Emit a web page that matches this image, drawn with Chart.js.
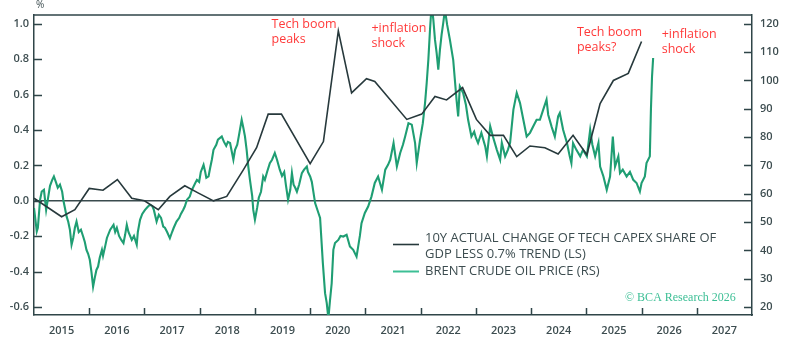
<!DOCTYPE html>
<html><head><meta charset="utf-8">
<script src="https://cdn.jsdelivr.net/npm/chart.js@4"></script>
<style>html,body{margin:0;padding:0;background:#fff}#wrap{width:792px;height:340px;position:relative}</style>
</head><body><div id="wrap"><canvas id="c" width="792" height="340"></canvas></div>
<script>
// ---- data ----
const capexYears = [2015.00,2015.50,2015.74,2016.00,2016.25,2016.51,2016.77,2017.00,2017.25,2017.46,2017.73,2017.97,2018.25,2018.49,2018.79,2019.03,2019.24,2019.48,2020.00,2020.24,2020.51,2020.75,2021.02,2021.17,2021.75,2022.02,2022.26,2022.47,2022.76,2023.01,2023.26,2023.50,2023.74,2023.98,2024.25,2024.49,2024.76,2025.01,2025.25,2025.49,2025.76,2026.00];
const capexValues = [0.015,-0.09,-0.05,0.07,0.06,0.12,0.015,0.0,-0.05,0.025,0.085,0.045,0.0,0.025,0.175,0.30,0.49,0.49,0.21,0.335,0.96,0.61,0.69,0.675,0.46,0.49,0.59,0.57,0.64,0.46,0.37,0.37,0.25,0.31,0.30,0.265,0.37,0.26,0.55,0.68,0.72,0.90];

const brentYears = [2015.00,2015.03,2015.05,2015.07,2015.11,2015.14,2015.18,2015.22,2015.25,2015.29,2015.33,2015.36,2015.40,2015.43,2015.47,2015.51,2015.53,2015.56,2015.59,2015.62,2015.65,2015.68,2015.71,2015.74,2015.77,2015.81,2015.85,2015.89,2015.92,2015.95,2015.98,
2016.01,2016.04,2016.07,2016.10,2016.13,2016.16,2016.19,2016.23,2016.25,2016.29,2016.32,2016.38,2016.44,2016.47,2016.50,2016.54,2016.58,2016.62,2016.65,2016.68,2016.71,2016.74,2016.77,2016.81,2016.86,2016.88,2016.92,2016.96,
2017.01,2017.06,2017.10,2017.14,2017.17,2017.22,2017.26,2017.30,2017.34,2017.37,2017.41,2017.46,2017.50,2017.53,2017.58,2017.63,2017.66,2017.70,2017.73,2017.77,2017.82,2017.86,2017.92,2017.95,2017.99,
2018.02,2018.07,2018.10,2018.12,2018.16,2018.19,2018.22,2018.25,2018.30,2018.33,2018.40,2018.44,2018.48,2018.51,2018.55,2018.61,2018.64,2018.68,2018.71,2018.76,2018.79,2018.82,2018.85,2018.88,2018.91,2018.95,2018.97,
2019.00,2019.04,2019.07,2019.11,2019.15,2019.18,2019.22,2019.27,2019.31,2019.36,2019.40,2019.45,2019.49,2019.53,2019.56,2019.60,2019.64,2019.67,2019.70,2019.73,2019.76,2019.80,2019.85,2019.89,2019.94,2019.96,
2020.00,2020.03,2020.09,2020.15,2020.18,2020.23,2020.27,2020.30,2020.33,2020.36,2020.39,2020.42,2020.45,2020.51,2020.55,2020.60,2020.66,2020.72,2020.78,2020.84,2020.87,2020.90,2020.93,2020.99,
2021.05,2021.11,2021.17,2021.23,2021.30,2021.36,2021.41,2021.45,2021.51,2021.57,2021.63,2021.68,2021.72,2021.78,2021.84,2021.90,2021.93,2021.99,
2022.04,2022.08,2022.11,2022.14,2022.17,2022.20,2022.23,2022.26,2022.29,2022.32,2022.35,2022.38,2022.41,2022.44,2022.48,2022.53,2022.59,2022.65,2022.68,2022.71,2022.77,2022.82,2022.86,2022.92,2022.97,
2023.00,2023.04,2023.10,2023.17,2023.20,2023.26,2023.31,2023.38,2023.44,2023.47,2023.53,2023.58,2023.62,2023.68,2023.74,2023.80,2023.86,2023.92,2023.98,
2024.04,2024.10,2024.16,2024.22,2024.28,2024.31,2024.37,2024.43,2024.49,2024.52,2024.58,2024.65,2024.70,2024.73,2024.76,2024.82,2024.89,2024.94,
2025.01,2025.07,2025.11,2025.16,2025.22,2025.25,2025.31,2025.37,2025.43,2025.48,2025.52,2025.58,2025.61,2025.66,2025.73,2025.79,2025.85,2025.91,2025.97,
2026.00,2026.06,2026.09,2026.15,2026.17,2026.19,2026.21];
const brentValues = [55.0,50.1,46.7,48.0,57.9,60.8,61.4,54.3,57.9,62.8,64.9,66.1,63.9,62.1,63.2,60.7,57.9,55.0,52.0,50.1,47.3,42.0,44.4,48.0,50.2,46.5,47.3,44.9,43.0,40.2,38.8,
36.7,32.4,27.2,30.3,33.1,34.3,37.4,40.2,38.1,41.6,44.4,47.3,49.0,46.5,48.0,45.1,43.7,42.6,45.5,49.0,46.5,45.1,43.7,45.1,42.0,46.5,50.8,52.9,
54.3,55.4,56.1,55.7,54.3,50.2,52.6,51.5,48.4,48.0,46.5,44.3,46.5,48.0,50.2,51.5,52.9,54.3,55.5,57.9,59.0,61.4,63.8,64.9,64.2,
67.7,70.2,67.7,65.6,66.1,69.2,72.0,75.5,77.3,79.1,80.2,78.3,76.9,78.3,77.9,72.0,75.5,77.3,80.5,86.1,83.3,80.2,75.5,69.6,64.9,59.3,54.3,
50.8,55.0,58.6,60.7,66.1,64.9,67.7,70.8,72.0,74.4,72.0,68.5,66.3,67.7,63.2,57.9,61.4,67.3,63.2,62.1,60.7,63.2,67.3,68.5,69.6,67.7,
66.1,64.2,56.7,53.2,51.5,35.5,24.9,21.5,16.0,22.5,28.4,40.2,42.6,43.7,45.1,44.9,45.5,41.4,40.2,37.8,41.4,45.1,49.6,53.2,
55.5,59.0,63.8,66.1,61.4,68.5,70.2,72.0,77.9,69.6,74.4,77.3,80.2,84.9,84.4,77.9,70.8,79.1,
84.9,92.0,99.1,107.3,117.9,127.0,121.5,114.4,109.7,103.8,110.9,116.2,120.3,125.0,119.7,114.4,107.3,93.2,87.3,97.9,95.6,91.4,86.1,80.2,81.9,
79.8,77.9,81.5,76.7,73.2,83.8,80.1,75.5,72.0,78.0,73.2,75.5,78.0,89.7,95.6,92.0,86.1,80.2,81.5,
83.8,86.1,86.1,89.7,93.2,87.9,83.8,80.2,87.3,88.5,82.6,77.9,73.2,70.8,77.9,75.5,73.2,75.5,
73.2,82.6,77.3,73.2,77.9,69.6,66.1,61.4,66.1,80.2,69.6,73.2,67.3,68.5,66.1,67.7,64.9,63.8,60.8,
63.8,66.1,70.8,73.2,89.7,101.4,107.9];

const xLabelYears = [2015,2016,2017,2018,2019,2020,2021,2022,2023,2024,2025,2026,2027];
const xTickYears = [2016,2017,2018,2019,2020,2021,2022,2023,2024,2025,2026,2027];
const leftTicks = [-0.6,-0.4,-0.2,0.0,0.2,0.4,0.6,0.8,1.0];
const rightTicks = [20,30,40,50,60,70,80,90,100,110,120];
const legendLabels = [["10Y ACTUAL CHANGE OF TECH CAPEX SHARE OF","GDP LESS 0.7% TREND (LS)"],["BRENT CRUDE OIL PRICE (RS)"]];
const noteTexts = [["Tech boom","peaks"],["+inflation","shock"],["Tech boom","peaks?"],["+inflation","shock"]];
const noteAnchors = [[2019.30,0.995],[2021.11,0.976],[2024.83,0.954],[2026.365,0.942]];
const creditText = "\u00A9 BCA Research 2026";

// ---- style ----
const AXIS = '#2f4548';
const DARK = '#27393c';
const GREEN = '#1f9e73';
const TXT = '#3d4d50';
const FONT = '"Open Sans", "DejaVu Sans", sans-serif';

const framePlugin = {
  id:'frame',
  afterDraw(chart){
    const {ctx, chartArea:a, scales} = chart;
    const x = scales.x, y = scales.y, y2 = scales.y2;
    ctx.save();
    ctx.strokeStyle = AXIS; ctx.lineWidth = 1.5;
    ctx.beginPath(); ctx.moveTo(a.left, a.top); ctx.lineTo(a.right, a.top); ctx.stroke();
    ctx.beginPath();
    leftTicks.forEach(v=>{const p=Math.round(y.getPixelForValue(v))+0.5; ctx.moveTo(a.left,p); ctx.lineTo(a.left+8,p);});
    rightTicks.forEach(v=>{const p=Math.round(y2.getPixelForValue(v))+0.5; ctx.moveTo(a.right,p); ctx.lineTo(a.right-8,p);});
    xTickYears.forEach(v=>{const p=Math.round(x.getPixelForValue(v))+0.5; ctx.moveTo(p,a.bottom); ctx.lineTo(p,a.bottom-7);});
    ctx.stroke();
    // % unit
    ctx.fillStyle = TXT; ctx.font = '10px '+FONT; ctx.textBaseline='middle'; ctx.textAlign='left';
    ctx.fillText('%', a.left+2, 5);
    // annotations
    ctx.fillStyle = '#ff3a3a'; ctx.font = '12.5px '+FONT;
    noteTexts.forEach((lines,i)=>{
      const px = x.getPixelForValue(noteAnchors[i][0]);
      const py = y.getPixelForValue(noteAnchors[i][1]);
      lines.forEach((t,j)=>ctx.fillText(t, px, py + j*15));
    });
    // legend
    ctx.lineWidth = 1.6;
    ctx.strokeStyle = DARK; ctx.beginPath(); ctx.moveTo(393,244.5); ctx.lineTo(419,244.5); ctx.stroke();
    ctx.strokeStyle = '#3cbf95'; ctx.lineWidth = 2; ctx.beginPath(); ctx.moveTo(393,271.5); ctx.lineTo(419,271.5); ctx.stroke();
    ctx.fillStyle = TXT; ctx.font = '13px '+FONT;
    ctx.fillText(legendLabels[0][0], 425, 238.5);
    ctx.fillText(legendLabels[0][1], 425, 254);
    ctx.fillText(legendLabels[1][0], 425, 271.5);
    // credit
    ctx.fillStyle = '#3cbf95'; ctx.font = '12px "Liberation Serif", "DejaVu Serif", serif';
    ctx.fillText(creditText, 625, 298);
    ctx.restore();
  }
};

const tickFont = {family: FONT, size: 11, weight: '600'};
new Chart(document.getElementById('c').getContext('2d'), {
  type:'line',
  data:{datasets:[
    {label:'capex', data: capexYears.map((v,i)=>({x:v,y:capexValues[i]})), yAxisID:'y', borderColor:DARK, borderWidth:1.6, pointRadius:0, tension:0, order:0},
    {label:'brent', data: brentYears.map((v,i)=>({x:v,y:brentValues[i]})), yAxisID:'y2', borderColor:GREEN, borderWidth:2.1, pointRadius:0, tension:0, order:1}
  ]},
  options:{
    responsive:false, animation:false, devicePixelRatio:1,
    layout:{padding:{top:15,left:0,right:0,bottom:0}},
    plugins:{legend:{display:false}, tooltip:{enabled:false}},
    scales:{
      x:{type:'linear', min:2015, max:2028, bounds:'data',
        afterBuildTicks:s=>{s.ticks = xLabelYears.map(v=>({value:v+0.5}));},
        afterFit:s=>{s.height=25;},
        grid:{display:false, drawTicks:false},
        border:{display:true, color:AXIS, width:1.5},
        ticks:{padding:9, autoSkip:false, maxRotation:0, color:TXT, font:tickFont, callback:v=>String(Math.floor(v))}},
      y:{position:'left', min:-0.645, max:1.05, bounds:'data',
        afterBuildTicks:s=>{s.ticks = leftTicks.map(v=>({value:v}));},
        afterFit:s=>{s.width=34;},
        grid:{drawTicks:false, lineWidth:1.5, color:c=>(c.tick && Math.abs(c.tick.value)<1e-9)?'#3a4b4e':'rgba(0,0,0,0)'},
        border:{display:true, color:AXIS, width:1.5},
        ticks:{padding:5, color:TXT, font:tickFont, callback:v=>Number(v).toFixed(1)}},
      y2:{position:'right', min:17.2, max:123.1, bounds:'data',
        afterBuildTicks:s=>{s.ticks = rightTicks.map(v=>({value:v}));},
        afterFit:s=>{s.width=40;},
        grid:{display:false, drawTicks:false},
        border:{display:true, color:AXIS, width:1.5},
        ticks:{padding:8, color:TXT, font:tickFont, callback:v=>String(v)}}
    }
  },
  plugins:[framePlugin]
});
</script>
</body></html>
